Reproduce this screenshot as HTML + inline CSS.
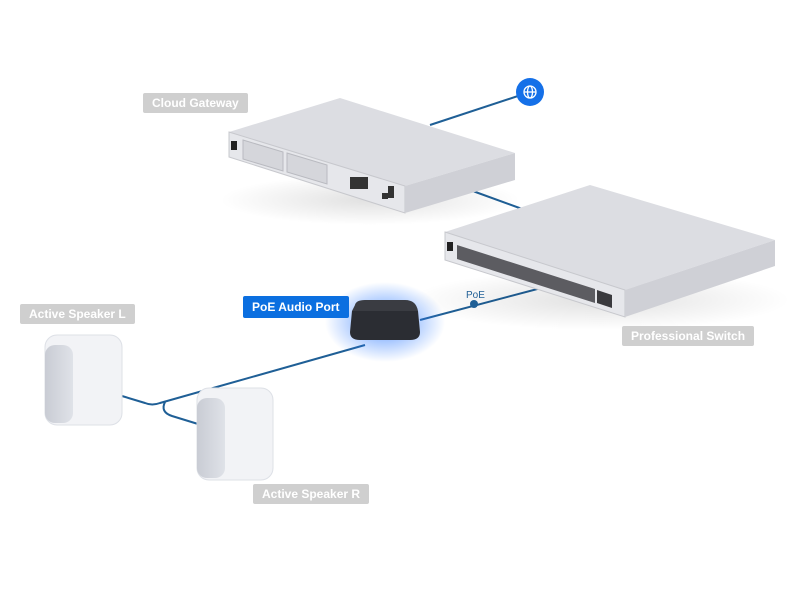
<!DOCTYPE html>
<html><head><style>
body{margin:0;background:#fff;width:800px;height:600px;overflow:hidden;font-family:"Liberation Sans",sans-serif}
.l{position:absolute;background:#cfcfcf;color:#fff;font-size:12px;font-weight:bold;height:20px;line-height:20px;padding:0 9px;border-radius:2px}
</style></head><body>
<svg width="800" height="600" style="position:absolute;left:0;top:0">
<defs>
<radialGradient id="g"><stop offset="0" stop-color="#2f7bff" stop-opacity=".8"/><stop offset="1" stop-color="#2f7bff" stop-opacity="0"/></radialGradient>
<radialGradient id="sh"><stop offset="0" stop-color="#000" stop-opacity=".12"/><stop offset="1" stop-color="#000" stop-opacity="0"/></radialGradient>
<linearGradient id="sp" x1="0" x2="1"><stop offset="0" stop-color="#c9ccd4"/><stop offset="1" stop-color="#dfe2e8"/></linearGradient>
</defs>
<g stroke="#1f5f96" stroke-width="2" fill="none">
<line x1="530" y1="92" x2="430" y2="125"/>
<line x1="470" y1="190" x2="525" y2="210"/>
<line x1="545" y1="287" x2="420" y2="320"/>
<path d="M365 345 L160 403 Q152 406 145 403 L122 396"/>
<path d="M165 402 Q160 412 172 416 L198 424"/>
</g>
<circle cx="530" cy="92" r="14" fill="#1570e8"/>
<g stroke="#fff" stroke-width="1.3" fill="none"><circle cx="530" cy="92" r="6"/><ellipse cx="530" cy="92" rx="2.5" ry="6"/><line x1="524" y1="92" x2="536" y2="92"/></g>
<!-- gateway -->
<ellipse cx="370" cy="200" rx="150" ry="25" fill="url(#sh)"/>
<polygon points="229,132 340,98 515,153 405,186" fill="#dcdde2"/>
<polygon points="229,132 405,186 405,213 229,157" fill="#e6e7eb" stroke="#c7c8cd"/>
<polygon points="405,186 515,153 515,180 405,213" fill="#cfd0d6"/>
<rect x="231" y="141" width="6" height="9" fill="#222"/>
<polygon points="243,140 283,152 283,171 243,159" fill="#d5d6db" stroke="#b9bac0"/>
<polygon points="287,153 327,165 327,184 287,172" fill="#d5d6db" stroke="#b9bac0"/>
<g fill="#333"><rect x="350" y="177" width="18" height="12"/><rect x="382" y="193" width="6" height="6"/><rect x="388" y="186" width="6" height="12"/></g>
<!-- switch -->
<ellipse cx="600" cy="300" rx="190" ry="30" fill="url(#sh)"/>
<polygon points="445,232 590,185 775,240 625,290" fill="#dcdde2"/>
<polygon points="445,232 625,290 625,317 445,260" fill="#e6e7eb" stroke="#c7c8cd"/>
<polygon points="625,290 775,240 775,266 625,317" fill="#cfd0d6"/>
<rect x="447" y="242" width="6" height="9" fill="#222"/>
<polygon points="457,245 595,289 595,303 457,259" fill="#3a3a3e" opacity=".8"/>
<polygon points="597,290 612,295 612,308 597,303" fill="#3a3a3e"/>
<!-- audio port -->
<ellipse cx="385" cy="322" rx="60" ry="40" fill="url(#g)"/>
<path d="M352 311 L418 311 L420 332 Q420 340 410 340 L360 340 Q350 340 350 332 Z" fill="#2b2d33"/>
<path d="M355 305 Q356 300 365 300 L405 300 Q416 300 418 311 L352 311 Z" fill="#3a3c42"/>
<circle cx="474" cy="304" r="4" fill="#1f5f96"/>
<text x="466" y="298" font-size="10" fill="#1f5f96" font-family="Liberation Sans">PoE</text>
<!-- speakers -->
<g>
<rect x="45" y="335" width="77" height="90" rx="12" fill="#f2f3f6" stroke="#dde0e6"/>
<rect x="45" y="345" width="28" height="78" rx="10" fill="url(#sp)"/>
<rect x="197" y="388" width="76" height="92" rx="12" fill="#f2f3f6" stroke="#dde0e6"/>
<rect x="197" y="398" width="28" height="80" rx="10" fill="url(#sp)"/>
</g>
</svg>
<div class="l" style="left:143px;top:93px">Cloud Gateway</div>
<div class="l" style="left:20px;top:304px">Active Speaker L</div>
<div class="l" style="left:243px;top:296px;background:#0b6fe0;height:22px;line-height:22px">PoE Audio Port</div>
<div class="l" style="left:622px;top:326px">Professional Switch</div>
<div class="l" style="left:253px;top:484px">Active Speaker R</div>
</body></html>
